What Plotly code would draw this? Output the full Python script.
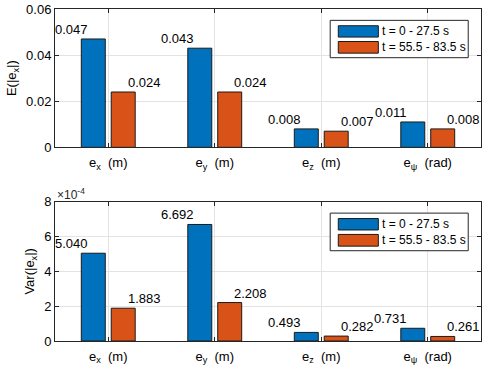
import plotly.graph_objects as go

categories = ["e<sub>x</sub>\u00a0\u00a0(m)", "e<sub>y</sub>\u00a0\u00a0(m)",
              "e<sub>z</sub>\u00a0\u00a0(m)", "e<sub>\u03c8</sub>\u00a0\u00a0(rad)"]
series_names = ["t = 0 - 27.5 s", "t = 55.5 - 83.5 s"]
mean_early = [0.047, 0.043, 0.008, 0.011]
mean_late = [0.024, 0.024, 0.007, 0.008]
var_early = [5.040, 6.692, 0.493, 0.731]  # x 1e-4
var_late = [1.883, 2.208, 0.282, 0.261]  # x 1e-4
mean_ticks = [0, 0.02, 0.04, 0.06]
mean_ticktext = ["0", "0.02", "0.04", "0.06"]
var_ticks = [0, 2, 4, 6, 8]

BLUE = "#0072BD"
ORANGE = "#D95319"
FONT = "Liberation Sans, Arial, sans-serif"
AXIS = "#262626"
GRID = "#e3e3e3"

xpos = [1, 2, 3, 4]
fig = go.Figure()

panels = [
    ("x", "y", mean_early, mean_late),
    ("x2", "y2", var_early, var_late),
]
annotations = []
shapes = []
for xa, ya, early, late in panels:
    fig.add_trace(go.Bar(x=xpos, y=early, width=0.225, offset=-0.253,
                         marker=dict(color=BLUE, line=dict(color="#1a1a1a", width=1)),
                         xaxis=xa, yaxis=ya, showlegend=False, name=series_names[0]))
    fig.add_trace(go.Bar(x=xpos, y=late, width=0.225, offset=0.028,
                         marker=dict(color=ORANGE, line=dict(color="#1a1a1a", width=1)),
                         xaxis=xa, yaxis=ya, showlegend=False, name=series_names[1]))
    for xv, v in zip(xpos, early):
        annotations.append(dict(x=xv - 0.175, y=v, xref=xa, yref=ya, text=f"{v:.3f}",
                                xanchor="right", yanchor="bottom", showarrow=False,
                                font=dict(size=13, color="black", family=FONT)))
    for xv, v in zip(xpos, late):
        annotations.append(dict(x=xv + 0.165, y=v, xref=xa, yref=ya, text=f"{v:.3f}",
                                xanchor="left", yanchor="bottom", showarrow=False,
                                font=dict(size=13, color="black", family=FONT)))

    # legend box drawn per panel
    xr, yr = xa + " domain", ya + " domain"
    shapes.append(dict(type="rect", xref=xr, yref=yr, x0=0.646, x1=0.970, y0=0.648, y1=0.918,
                       line=dict(color=AXIS, width=1), fillcolor="white", layer="above"))
    for (y0, y1), col, name in zip([(0.797, 0.879), (0.681, 0.765)], [BLUE, ORANGE], series_names):
        shapes.append(dict(type="rect", xref=xr, yref=yr, x0=0.665, x1=0.759, y0=y0, y1=y1,
                           line=dict(color="#1a1a1a", width=1), fillcolor=col, layer="above"))
        annotations.append(dict(x=0.764, y=(y0 + y1) / 2, xref=xr, yref=yr, text=name,
                                xanchor="left", yanchor="middle", showarrow=False,
                                font=dict(size=12, color="black", family=FONT)))

annotations.append(dict(x=0.0, y=1.0, xref="x2 domain", yref="y2 domain",
                        text="\u00d710<sup>-4</sup>", xanchor="left", yanchor="bottom",
                        showarrow=False, yshift=-2,
                        font=dict(size=12, color=AXIS, family=FONT)))

axis_common = dict(showline=True, linecolor=AXIS, linewidth=1, mirror="allticks",
                   ticks="inside", ticklen=4, tickcolor=AXIS, showgrid=True,
                   gridcolor=GRID, gridwidth=1, zeroline=False,
                   tickfont=dict(size=13, color="black", family=FONT))

fig.update_layout(
    width=484, height=370,
    margin=dict(l=55, r=2, t=5, b=29),
    paper_bgcolor="white", plot_bgcolor="white",
    font=dict(family=FONT, color="black"),
    xaxis=dict(domain=[0, 1], anchor="y", range=[0.5, 4.5], tickvals=xpos,
               ticktext=categories, ticklabelstandoff=3, **axis_common),
    yaxis=dict(domain=[0.5833, 1.0], anchor="x", range=[0, 0.06],
               tickvals=mean_ticks, ticktext=mean_ticktext,
               title=dict(text="E(|e<sub>x</sub>|)", standoff=6,
                          font=dict(size=13, family=FONT)),
               **axis_common),
    xaxis2=dict(domain=[0, 1], anchor="y2", range=[0.5, 4.5], tickvals=xpos,
                ticktext=categories, ticklabelstandoff=3, **axis_common),
    yaxis2=dict(domain=[0.0, 0.4196], anchor="x2", range=[0, 8], tickvals=var_ticks,
                title=dict(text="Var(|e<sub>x</sub>|)", standoff=6,
                           font=dict(size=13, family=FONT)),
                **axis_common),
    annotations=annotations,
    shapes=shapes,
)

fig.write_html("out.html", config={"displayModeBar": False},
               post_script="document.body.style.margin='0';")
